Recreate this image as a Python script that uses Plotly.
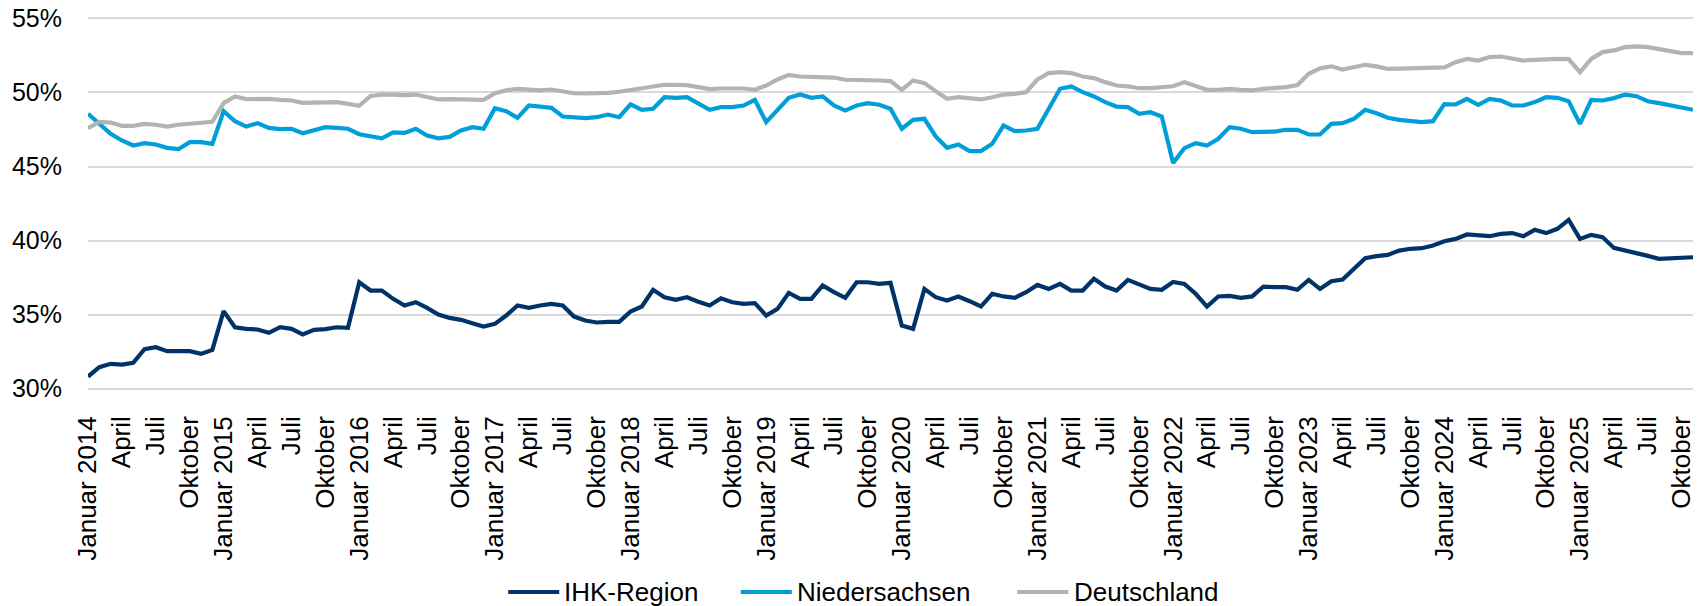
import plotly.graph_objects as go

# Monthly values, January 2014 to November 2025 (percent).
months = ['Januar', 'Februar', 'März', 'April', 'Mai', 'Juni', 'Juli',
          'August', 'September', 'Oktober', 'November', 'Dezember']
years = list(range(2014, 2026))

ihk_region = [
    30.81, 31.44, 31.67, 31.62, 31.73, 32.66, 32.79, 32.52, 32.52, 32.52, 32.34, 32.61,
    35.23, 34.14, 34.03, 33.99, 33.76, 34.14, 34.03, 33.65, 33.96, 34.01, 34.14, 34.10,
    37.18, 36.62, 36.62, 36.06, 35.61, 35.83, 35.45, 35.00, 34.77, 34.64, 34.41, 34.19,
    34.37, 34.93, 35.61, 35.45, 35.61, 35.72, 35.61, 34.86, 34.59, 34.46, 34.50, 34.50,
    35.20, 35.54, 36.67, 36.17, 35.99, 36.17, 35.86, 35.61, 36.10, 35.83, 35.72, 35.77,
    34.93, 35.38, 36.46, 36.06, 36.06, 36.96, 36.51, 36.13, 37.18, 37.18, 37.07, 37.14,
    34.26, 34.03, 36.73, 36.17, 35.95, 36.22, 35.90, 35.54, 36.40, 36.22, 36.13, 36.51,
    37.00, 36.73, 37.07, 36.62, 36.62, 37.41, 36.89, 36.62, 37.34, 37.03, 36.73, 36.67,
    37.20, 37.07, 36.40, 35.54, 36.22, 36.26, 36.13, 36.22, 36.89, 36.85, 36.85, 36.67,
    37.34, 36.73, 37.25, 37.36, 38.09, 38.81, 38.94, 39.03, 39.32, 39.44, 39.48, 39.66,
    39.95, 40.11, 40.41, 40.38, 40.29, 40.45, 40.50, 40.29, 40.72, 40.50, 40.79, 41.40,
    40.11, 40.38, 40.23, 39.50, 39.32, 39.21, 38.96, 38.76, 38.78, 38.87, 38.87,
]

niedersachsen = [
    48.56, 47.88, 47.21, 46.76, 46.42, 46.58, 46.49, 46.26, 46.17, 46.64, 46.64, 46.53,
    48.74, 48.06, 47.70, 47.93, 47.61, 47.52, 47.55, 47.25, 47.48, 47.66, 47.61, 47.55,
    47.18, 47.03, 46.90, 47.30, 47.27, 47.55, 47.09, 46.90, 47.00, 47.43, 47.66, 47.55,
    48.94, 48.74, 48.29, 49.12, 49.01, 48.96, 48.38, 48.29, 48.27, 48.33, 48.51, 48.33,
    49.20, 48.83, 48.90, 49.68, 49.64, 49.68, 49.23, 48.83, 49.01, 49.01, 49.12, 49.50,
    48.00, 48.83, 49.64, 49.86, 49.64, 49.73, 49.12, 48.78, 49.12, 49.28, 49.17, 48.90,
    47.55, 48.15, 48.22, 47.03, 46.26, 46.49, 46.04, 46.04, 46.53, 47.77, 47.39, 47.43,
    47.55, 48.90, 50.25, 50.41, 50.02, 49.73, 49.35, 49.05, 49.01, 48.56, 48.67, 48.38,
    45.23, 46.24, 46.58, 46.42, 46.87, 47.66, 47.55, 47.32, 47.32, 47.36, 47.48, 47.48,
    47.16, 47.16, 47.88, 47.93, 48.22, 48.83, 48.60, 48.29, 48.15, 48.06, 48.00, 48.06,
    49.21, 49.19, 49.57, 49.17, 49.57, 49.46, 49.12, 49.12, 49.35, 49.68, 49.64, 49.41,
    47.88, 49.50, 49.46, 49.62, 49.86, 49.75, 49.41, 49.28, 49.12, 48.96, 48.83,
]

deutschland = [
    47.59, 48.02, 47.97, 47.75, 47.75, 47.88, 47.82, 47.70, 47.82, 47.88, 47.93, 48.02,
    49.28, 49.73, 49.55, 49.59, 49.57, 49.50, 49.46, 49.30, 49.32, 49.28, 49.35, 49.23,
    49.10, 49.77, 49.86, 49.86, 49.82, 49.86, 49.68, 49.53, 49.55, 49.55, 49.55, 49.50,
    49.95, 50.14, 50.25, 50.18, 50.14, 50.20, 50.07, 49.95, 49.93, 49.93, 49.98, 50.05,
    50.17, 50.25, 50.41, 50.52, 50.52, 50.50, 50.36, 50.23, 50.27, 50.27, 50.27, 50.18,
    50.47, 50.88, 51.19, 51.08, 51.06, 51.10, 51.01, 50.86, 50.86, 50.83, 50.81, 50.77,
    50.18, 50.81, 50.63, 50.09, 49.57, 49.68, 49.57, 49.53, 49.68, 49.86, 49.91, 50.02,
    50.88, 51.31, 51.37, 51.31, 51.08, 50.97, 50.70, 50.47, 50.41, 50.29, 50.29, 50.32,
    50.42, 50.70, 50.47, 50.18, 50.18, 50.25, 50.18, 50.14, 50.25, 50.29, 50.36, 50.50,
    51.26, 51.63, 51.77, 51.55, 51.69, 51.87, 51.76, 51.59, 51.61, 51.64, 51.65, 51.71,
    51.69, 52.05, 52.27, 52.16, 52.39, 52.43, 52.32, 52.16, 52.21, 52.27, 52.27, 52.25,
    51.37, 52.27, 52.73, 52.84, 53.06, 53.11, 53.06, 52.93, 52.79, 52.66, 52.66,
]

y_ticks = [30, 35, 40, 45, 50, 55]

# Category labels, one per month; every third month gets a tick label.
categories = []
tick_vals = []
tick_text = []
for year in years:
    for m, name in enumerate(months):
        if len(categories) == len(ihk_region):
            break
        label = f'{name} {year}'
        categories.append(label)
        if m % 3 == 0:
            tick_vals.append(label)
            tick_text.append(label if m == 0 else name)

series = [
    ('IHK-Region', ihk_region, '#003468'),
    ('Niedersachsen', niedersachsen, '#009FD9'),
    ('Deutschland', deutschland, '#B3B3B3'),
]

# Legend drawn by hand, so the key lines can be as long as in the original.
legend_x = [0.2618, 0.4067, 0.5790]
legend_line_len = 0.0318
legend_y = -0.5416

fig = go.Figure()

for name, values, color in series:
    fig.add_trace(go.Scatter(
        x=categories,
        y=values,
        name=name,
        mode='lines',
        line=dict(color=color, width=4.2),
    ))

for (name, values, color), lx in zip(series, legend_x):
    fig.add_shape(
        type='line', xref='paper', yref='paper',
        x0=lx, x1=lx + legend_line_len, y0=legend_y, y1=legend_y,
        line=dict(color=color, width=4.2),
    )
    fig.add_annotation(
        text=name, xref='paper', yref='paper',
        x=lx + legend_line_len + 0.002, y=legend_y,
        xanchor='left', yanchor='middle', showarrow=False,
        font=dict(size=26),
    )

fig.update_layout(
    width=1704,
    height=606,
    autosize=False,
    margin=dict(l=88, r=8, t=17, b=216),
    paper_bgcolor='white',
    plot_bgcolor='white',
    font=dict(family='Liberation Sans, Arial, sans-serif', size=26, color='#000000'),
    showlegend=False,
    xaxis=dict(
        type='category',
        categoryorder='array',
        categoryarray=categories,
        tickmode='array',
        tickvals=tick_vals,
        ticktext=tick_text,
        tickangle=-90,
        showgrid=False,
        showline=False,
        ticks='',
        tickfont=dict(size=26),
        ticklabelstandoff=20,
    ),
    yaxis=dict(
        range=[29.9, 55.1],
        tickmode='array',
        tickvals=y_ticks,
        ticktext=[f'{v}%' for v in y_ticks],
        showgrid=True,
        gridcolor='#D9D9D9',
        gridwidth=1.5,
        zeroline=False,
        showline=False,
        ticks='',
        tickfont=dict(size=25),
        ticklabelstandoff=25,
        ticklabeloverflow='allow',
        automargin=False,
    ),
)

# Drop the default 8px page margin so the figure fills the window exactly.
fig.write_html(
    "out.html",
    config={'displayModeBar': False},
    post_script="document.body.style.margin = '0';",
)
